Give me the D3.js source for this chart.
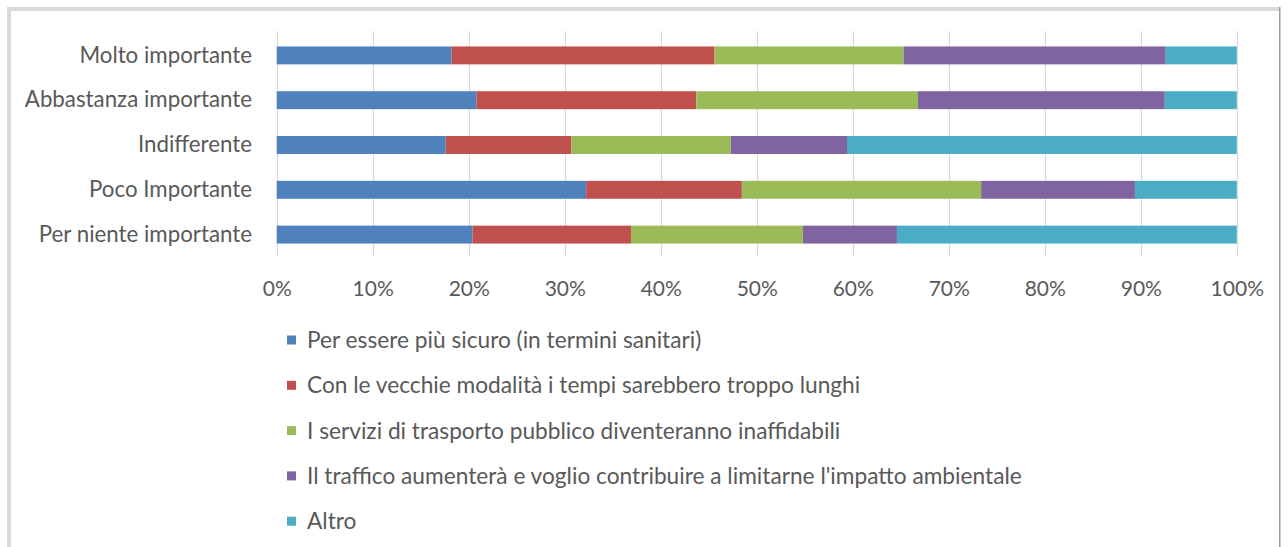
<!DOCTYPE html>
<html>
<head>
<meta charset="utf-8">
<title>Motivazioni</title>
<script src="https://cdn.jsdelivr.net/npm/d3@7"></script>
<style>
body { margin: 0; background: #fff; }
text { font-family: Lato, 'Open Sans', sans-serif; fill: #595959; }
</style>
</head>
<body>
<script>
// categories, top to bottom
var categories = ["Molto importante", "Abbastanza importante", "Indifferente", "Poco Importante", "Per niente importante"];
var seriesNames = [
  "Per essere più sicuro (in termini sanitari)",
  "Con le vecchie modalità i tempi sarebbero troppo lunghi",
  "I servizi di trasporto pubblico diventeranno inaffidabili",
  "Il traffico aumenterà e voglio contribuire a limitarne l'impatto ambientale",
  "Altro"
];
var colors = ["#4f81bd", "#c0504d", "#9bbb59", "#8064a2", "#4bacc6"];
// percent shares per category, one array per series
var sicuro   = [18.2, 20.8, 17.6, 32.2, 20.4];
var tempi    = [27.4, 22.9, 13.1, 16.2, 16.5];
var servizi  = [19.7, 23.1, 16.6, 24.9, 17.9];
var traffico = [27.3, 25.7, 12.1, 16.0,  9.8];
var altro    = [ 7.4,  7.5, 40.6, 10.6, 35.4];
var tickVals = [0, 10, 20, 30, 40, 50, 60, 70, 80, 90, 100];

var w = 1288, h = 547;
var svg = d3.select("body").append("svg").attr("width", w).attr("height", h);

// frame
svg.append("rect").attr("x", 7).attr("y", 7).attr("width", 1273).attr("height", 4).attr("fill", "#d9d9d9");
svg.append("rect").attr("x", 7).attr("y", 7).attr("width", 4).attr("height", h).attr("fill", "#d9d9d9");
svg.append("rect").attr("x", 1279).attr("y", 7).attr("width", 1.5).attr("height", h).attr("fill", "#9a9a9a");

var table = categories.map(function(c, i) {
  return { cat: c, s0: sicuro[i], s1: tempi[i], s2: servizi[i], s3: traffico[i], s4: altro[i] };
});
var keys = ["s0", "s1", "s2", "s3", "s4"];
var stacked = d3.stack().keys(keys).offset(d3.stackOffsetExpand)(table);

var x = d3.scaleLinear().domain([0, 1]).range([276.7, 1236.8]);
var y = d3.scaleBand().domain(categories).range([33, 257]).paddingInner(0.6).paddingOuter(0.3);

// gridlines
svg.append("g").selectAll("line").data(tickVals).join("line")
  .attr("x1", function(d) { return Math.round(x(d / 100)) + 0.5; })
  .attr("x2", function(d) { return Math.round(x(d / 100)) + 0.5; })
  .attr("y1", 31).attr("y2", 256)
  .attr("stroke", "#d9d9d9").attr("stroke-width", 1.2);

// bars
svg.append("g").selectAll("g").data(stacked).join("g")
  .attr("fill", function(d, i) { return colors[i]; })
  .selectAll("rect").data(function(d) { return d; }).join("rect")
  .attr("x", function(d) { return x(d[0]); })
  .attr("width", function(d) { return x(d[1]) - x(d[0]); })
  .attr("y", function(d) { return y(d.data.cat); })
  .attr("height", y.bandwidth());

// category labels
var yAxis = svg.append("g").attr("transform", "translate(252,0)")
  .call(d3.axisLeft(y).tickSize(0).tickPadding(0));
yAxis.select(".domain").remove();
yAxis.selectAll("text").attr("font-size", 22.3).attr("font-family", null).attr("fill", "#595959");

// x axis
var xAxis = svg.append("g").attr("transform", "translate(0,256)")
  .call(d3.axisBottom(x).tickValues(tickVals.map(function(v) { return v / 100; }))
    .tickFormat(d3.format(".0%")).tickSize(0).tickPadding(25));
xAxis.select(".domain").remove();
xAxis.selectAll("text").attr("font-size", 21).attr("font-family", null).attr("fill", "#666");

// legend
var leg = svg.append("g").selectAll("g").data(seriesNames).join("g")
  .attr("transform", function(d, i) { return "translate(287," + (340 + i * 45.3) + ")"; });
leg.append("rect").attr("x", 0).attr("y", -4.5).attr("width", 9).attr("height", 9)
  .attr("fill", function(d, i) { return colors[i]; });
leg.append("text").attr("x", 20).attr("dy", "0.35em").attr("font-size", 22.7).text(function(d) { return d; });
</script>
</body>
</html>
